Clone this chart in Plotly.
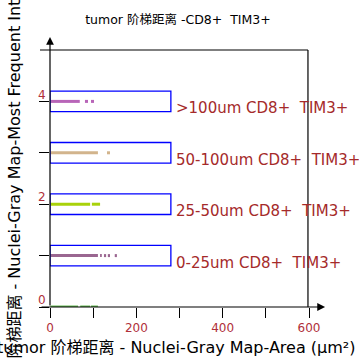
import plotly.graph_objects as go

# ---- data ----
series_names = [">100um CD8+  TIM3+", "50-100um CD8+  TIM3+", "25-50um CD8+  TIM3+", "0-25um CD8+  TIM3+"]
series_levels = [4, 3, 2, 1]
series_colors = ["#b865b8", "#d2b48c", "#a8d20a", "#9a6690"]

# Nuclei-Gray Map-Area runs (µm²) per series, None separates gaps
area_gt100 = [1, 69, None, 81, 88, None, 95, 102]
area_50_100 = [1, 111, None, 132, 139]
area_25_50 = [1, 93, None, 97, 116]
area_0_25 = [1, 111, None, 116, 120, None, 125, 130, None, 134, 139, None, 150, 155]
series_areas = [area_gt100, area_50_100, area_25_50, area_0_25]

# unlabeled green series at intensity 0
base_level = 0
base_color = "#66bb55"
area_base = [1, 65, None, 70, 93, None, 95, 111]

x_tick_vals = [0, 100, 200, 300, 400, 500, 600]
x_tick_text = ["0", "", "200", "", "400", "", "600"]
y_tick_vals = [0, 1, 2, 3, 4]
y_tick_text = ["0", "", "2", "", "4"]

box_x_end = 280
box_half = 0.2

FONT = "DejaVu Sans, Noto Sans CJK SC, sans-serif"
TICK_COLOR = "#b0303a"
LABEL_COLOR = "#a52a2a"

fig = go.Figure()


def ys_for(xs, lvl):
    return [lvl if v is not None else None for v in xs]


fig.add_trace(go.Scatter(x=area_base, y=ys_for(area_base, base_level), mode="lines",
                         line=dict(color=base_color, width=3), connectgaps=False,
                         showlegend=False, hoverinfo="skip"))

for name, lvl, col, xs in zip(series_names, series_levels, series_colors, series_areas):
    fig.add_trace(go.Scatter(x=xs, y=ys_for(xs, lvl), mode="lines", name=name,
                             line=dict(color=col, width=3), connectgaps=False,
                             showlegend=False))
    fig.add_shape(type="rect", xref="x", yref="y", x0=0, x1=box_x_end,
                  y0=lvl - box_half, y1=lvl + box_half,
                  line=dict(color="#0000ff", width=1.3), fillcolor="rgba(0,0,0,0)")
    fig.add_annotation(x=box_x_end + 8, y=lvl, xref="x", yref="y", text=name,
                       showarrow=False, xanchor="left", yanchor="middle", yshift=-7,
                       font=dict(family=FONT, size=15, color=LABEL_COLOR))

# frame lines (top and right) extending like the reference
fig.add_shape(type="line", xref="paper", yref="paper", x0=-0.0386, x1=0.996, y0=1, y1=1,
              line=dict(color="black", width=1.2))
fig.add_shape(type="line", xref="paper", yref="paper", x0=0.996, x1=0.996, y0=0, y1=1,
              line=dict(color="black", width=1.2))

# x axis with arrow
fig.add_annotation(x=1.062, y=0, xref="paper", yref="paper", ax=-285, ay=0,
                   axref="pixel", ayref="pixel", text="", showarrow=True,
                   arrowhead=2, arrowsize=1.3, arrowwidth=1.2, arrowcolor="black", standoff=0)
# y axis with arrow
fig.add_annotation(x=0, y=1.0506, xref="paper", yref="paper", ax=0, ay=270,
                   axref="pixel", ayref="pixel", text="", showarrow=True,
                   arrowhead=2, arrowsize=1.3, arrowwidth=1.2, arrowcolor="black", standoff=0)

# axis titles
fig.add_annotation(x=0.488, y=-0.156, xref="paper", yref="paper",
                   text="tumor 阶梯距离 - Nuclei-Gray Map-Area (µm²)", showarrow=False,
                   xanchor="center", yanchor="middle",
                   font=dict(family=FONT, size=16, color="black"))
fig.add_annotation(x=-0.139, y=0.49, xref="paper", yref="paper",
                   text="tumor 阶梯距离 - Nuclei-Gray Map-Most Frequent Intensity", showarrow=False,
                   xanchor="center", yanchor="middle", textangle=-90,
                   font=dict(family=FONT, size=16, color="black"))

fig.update_layout(
    width=359, height=359,
    margin=dict(l=50, r=50, t=50, b=52),
    paper_bgcolor="white", plot_bgcolor="white",
    showlegend=False,
    title=dict(text="tumor 阶梯距离 -CD8+  TIM3+", x=0.494, xref="paper", xanchor="center",
               y=0.944, yref="container", yanchor="middle",
               font=dict(family=FONT, size=12.5, color="black")),
    xaxis=dict(range=[0, 600], tickvals=x_tick_vals, ticktext=x_tick_text,
               ticks="outside", ticklen=10, tickwidth=1.2, tickcolor="black",
               showgrid=False, zeroline=False, showline=False,
               tickfont=dict(family=FONT, size=12, color=TICK_COLOR)),
    yaxis=dict(range=[0, 5], tickvals=y_tick_vals, ticktext=y_tick_text,
               ticks="outside", ticklen=10, tickwidth=1.2, tickcolor="black",
               showgrid=False, zeroline=False, showline=False,
               ticklabelshift=-7, ticklabelstandoff=-9,
               tickfont=dict(family=FONT, size=12, color=TICK_COLOR)),
)

fig.write_html("out.html", config={"displayModeBar": False},
               post_script="document.body.style.margin='0';")
